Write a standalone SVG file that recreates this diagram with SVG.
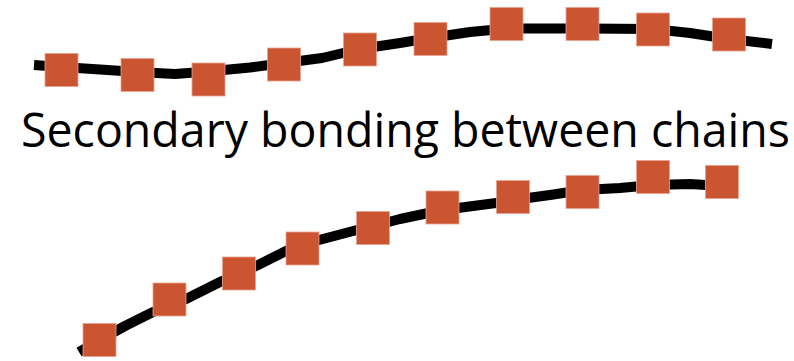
<svg xmlns="http://www.w3.org/2000/svg" width="794" height="361" viewBox="0 0 794 361">
<style>
.chain{fill:none;stroke:#000;stroke-width:10;stroke-linejoin:round}
.m{fill:#CB5431;stroke:#E8A48E;stroke-width:0.8}
.t{font-family:"Open Sans","Liberation Sans",sans-serif;font-size:47px;fill:#000}
</style>
<rect width="794" height="361" fill="#fff"/>
<g id="connectors">
<polyline class="chain" points="34,65 62,67 100,69.5 137,72 175,74 208,71.5 250,67.5 284,63 322,58 360,49 400,43 430,38 470,32 507,28.5 583,28.5 653,29 690,33 729,39 772,44"/>
<polyline class="chain" points="79,352 99.5,340 125,326 153,312 169.5,305 186,299 222,281 239,274 256,266 286,251 302.5,245 319,240 357,230 373,226 400,219 442.5,210 496,203 513,200 550,195 583,190 620,188 653,185 690,184 722,186"/>
</g>
<g id="chain-top">
<rect class="m" x="45" y="53.5" width="33" height="33"/>
<rect class="m" x="121" y="58.5" width="33" height="33"/>
<rect class="m" x="192" y="63" width="33" height="33"/>
<rect class="m" x="267.5" y="48" width="33" height="33"/>
<rect class="m" x="343.5" y="33" width="33" height="33"/>
<rect class="m" x="414" y="22.5" width="33" height="33"/>
<rect class="m" x="490" y="7.5" width="33" height="33"/>
<rect class="m" x="566" y="7.5" width="33" height="33"/>
<rect class="m" x="636.5" y="13" width="33" height="33"/>
<rect class="m" x="712.5" y="18" width="33" height="33"/>
</g>
<g id="chain-bottom">
<rect class="m" x="83" y="323.5" width="33" height="33"/>
<rect class="m" x="153" y="283" width="33" height="33"/>
<rect class="m" x="222.5" y="257" width="33" height="33"/>
<rect class="m" x="286" y="232" width="33" height="33"/>
<rect class="m" x="356.5" y="211.5" width="33" height="33"/>
<rect class="m" x="426" y="191" width="33" height="33"/>
<rect class="m" x="496.5" y="180.5" width="33" height="33"/>
<rect class="m" x="566" y="175.5" width="33" height="33"/>
<rect class="m" x="636.5" y="160.5" width="33" height="33"/>
<rect class="m" x="705.5" y="165.5" width="33" height="33"/>
</g>
<g id="label">
<text class="t" x="21" y="147" textLength="769" lengthAdjust="spacingAndGlyphs">Secondary bonding between chains</text>
</g>
</svg>
